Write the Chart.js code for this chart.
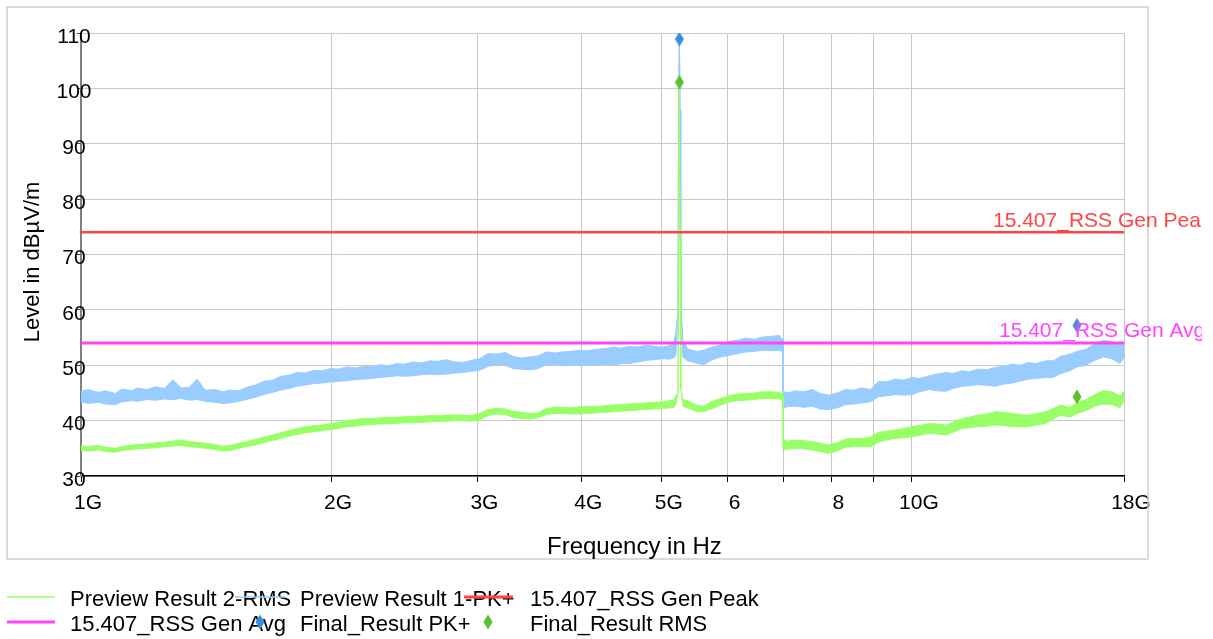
<!DOCTYPE html>
<html><head><meta charset="utf-8">
<script src="https://cdn.jsdelivr.net/npm/chart.js@4.4.1/dist/chart.umd.min.js"></script>
<style>html,body{margin:0;padding:0;background:#fff;overflow:hidden}canvas{display:block}</style>
</head><body>
<canvas id="c" width="1213" height="639" style="width:1213px;height:639px"></canvas>
<script>
// ---- data (GHz / dBµV/m) ----
const freqGHz = [
1.00,1.02,1.05,1.07,1.10,1.12,1.15,1.17,1.20,1.23,
1.26,1.29,1.32,1.35,1.38,1.41,1.45,1.48,1.51,1.55,
1.58,1.62,1.66,1.70,1.74,1.78,1.82,1.86,1.91,1.95,
2.00,2.04,2.09,2.14,2.19,2.24,2.29,2.34,2.40,2.45,
2.51,2.57,2.63,2.69,2.75,2.82,2.88,2.95,3.02,3.09,
3.16,3.24,3.31,3.39,3.47,3.55,3.63,3.72,3.80,3.89,
3.98,4.07,4.17,4.27,4.37,4.47,4.57,4.68,4.79,4.90,
5.01,5.10,5.17,5.20,5.23,5.24,5.25,5.26,5.27,5.30,
5.37,5.50,5.62,5.75,5.89,6.03,6.17,6.31,6.46,6.61,
6.76,6.92,7.00,
7.00,7.08,7.24,7.41,7.59,7.76,7.94,8.13,8.32,8.51,
8.71,8.91,9.12,9.33,9.55,9.77,10.0,10.2,10.5,10.7,
11.0,11.2,11.5,11.7,12.0,12.3,12.6,12.9,13.2,13.5,
13.8,14.1,14.5,14.8,15.1,15.5,15.8,16.2,16.6,17.0,
17.4,17.8,18.0];

// Preview Result 1-PK+ (lower / upper edge of the trace)
const pkLow = [
43.4,43.1,43.3,43.0,42.9,43.4,43.6,43.5,43.8,43.7,
43.9,43.8,44.0,43.7,43.8,43.5,43.3,43.1,43.2,43.5,
43.8,44.2,44.7,45.1,45.5,45.8,46.2,46.4,46.7,46.8,
47.0,47.1,47.2,47.4,47.5,47.6,47.8,47.9,48.1,48.0,
48.1,48.3,48.4,48.3,48.4,48.6,48.7,48.9,49.1,49.8,
50.1,50.0,49.4,49.3,49.2,49.4,50.1,50.2,49.9,50.0,
50.0,50.1,50.0,50.2,50.0,50.3,50.3,50.6,50.9,51.0,
51.2,51.1,51.3,52.0,60.0,100.0,108.8,96.0,62.0,51.5,
50.8,50.4,50.1,51.0,51.5,51.8,52.1,52.4,52.5,52.7,
52.6,52.7,52.4,
42.3,42.5,42.6,42.4,42.6,42.1,42.0,42.3,42.9,43.0,
43.2,43.4,44.3,44.5,44.7,44.6,44.7,45.2,45.6,45.4,
45.3,45.8,46.2,46.3,46.5,46.4,46.2,46.6,46.8,47.1,
47.5,47.6,47.8,47.8,48.5,49.0,49.7,50.0,50.9,51.5,
51.2,50.3,51.4];
const pkHigh = [
45.3,45.6,45.1,45.4,44.9,45.7,45.4,45.9,45.6,46.1,
45.8,47.4,45.9,46.0,47.5,45.5,45.6,45.2,45.5,45.4,
46.0,46.4,47.1,47.3,48.0,48.2,48.7,48.6,49.1,49.0,
49.4,49.3,49.7,49.5,49.8,49.7,50.1,49.9,50.3,50.2,
50.6,50.4,50.8,50.7,51.0,50.6,50.5,50.9,51.2,52.1,
52.0,52.3,51.6,51.3,51.5,51.7,52.4,52.2,52.4,52.5,
52.7,52.6,52.9,53.0,53.3,53.1,53.4,53.3,53.6,53.4,
53.3,53.5,54.2,56.0,60.0,100.0,108.8,96.0,62.0,54.5,
53.0,52.5,52.7,53.3,53.7,54.3,54.5,54.9,54.7,55.1,
55.2,55.4,54.6,
45.3,45.0,45.4,45.2,45.6,44.9,44.6,45.0,45.6,45.5,
45.9,45.6,47.1,47.0,47.5,47.3,47.8,47.6,48.1,48.4,
48.7,48.5,49.0,48.8,49.3,49.2,49.6,49.8,50.2,50.0,
50.5,50.3,50.8,50.8,51.6,52.0,52.5,52.9,53.9,54.5,
54.3,53.6,54.1];

// Preview Result 2-RMS (lower / upper edge of the trace)
const rmsLow = [
34.6,34.5,34.7,34.4,34.3,34.6,34.8,34.9,35.0,35.1,
35.3,35.4,35.5,35.3,35.2,35.0,34.8,34.5,34.6,35.0,
35.3,35.6,36.0,36.4,36.8,37.2,37.5,37.8,38.0,38.2,
38.4,38.6,38.9,39.0,39.2,39.3,39.4,39.4,39.5,39.6,
39.6,39.7,39.8,39.8,39.9,40.0,40.0,39.9,40.2,40.9,
41.2,41.1,40.6,40.4,40.3,40.5,41.1,41.3,41.3,41.2,
41.2,41.3,41.4,41.5,41.6,41.7,41.8,41.9,42.0,42.1,
42.2,42.3,42.4,43.0,45.0,75.0,101.0,72.0,46.0,42.6,
42.3,41.7,41.6,42.2,42.8,43.4,43.6,43.7,43.8,44.0,
44.0,43.9,43.7,
34.7,34.8,35.0,34.9,34.7,34.4,34.1,34.5,35.2,35.3,
35.3,35.3,36.1,36.5,36.8,36.9,37.1,37.3,37.7,37.6,
37.4,37.9,38.6,38.7,38.9,39.0,39.2,39.1,38.9,38.9,
38.9,39.2,39.5,40.3,41.0,40.6,41.3,41.8,42.6,43.0,
42.9,42.3,43.5];
const rmsHigh = [
35.4,35.3,35.5,35.2,35.0,35.3,35.6,35.7,35.8,36.0,
36.1,36.3,36.5,36.2,36.1,35.9,35.7,35.4,35.5,35.9,
36.2,36.6,37.0,37.4,37.8,38.2,38.6,38.9,39.1,39.2,
39.5,39.7,40.0,40.2,40.4,40.4,40.5,40.6,40.6,40.7,
40.8,40.8,40.9,40.9,41.0,41.0,41.0,40.9,41.3,42.0,
42.2,42.1,41.7,41.5,41.3,41.4,42.2,42.4,42.4,42.3,
42.5,42.6,42.5,42.7,42.8,42.9,43.0,43.1,43.2,43.3,
43.4,43.6,43.8,44.5,45.0,75.0,101.0,72.0,46.0,43.8,
43.6,42.8,42.6,43.5,44.0,44.5,44.8,44.9,45.0,45.2,
45.2,45.1,44.8,
36.5,36.3,36.5,36.4,36.2,35.9,35.6,36.0,36.7,36.8,
36.8,37.0,37.9,38.1,38.3,38.6,38.9,39.1,39.5,39.4,
39.2,39.7,40.4,40.6,41.0,41.2,41.6,41.5,41.3,41.1,
41.0,41.3,41.6,42.2,42.8,42.4,43.2,43.8,44.7,45.4,
45.2,44.5,45.3];

const limitFreq = [1, 18];
const limitPeak = [74, 74];
const limitAvg = [54, 54];

const finalFreq = [5.25, 15.8];
const finalPk = [108.9, 57.2];
const finalRms = [101.1, 44.3];

const xTickValues = [1, 2, 3, 4, 5, 6, 7, 8, 9, 10, 18];
const xTickLabels = ['1G', '2G', '3G', '4G', '5G', '6', '', '8', '', '10G', '18G'];
const yMin = 30, yMax = 110, yStep = 5;

const xTitle = 'Frequency in Hz';
const yTitle = 'Level in dBµV/m';
const limitNames = ['15.407_RSS Gen Peak', '15.407_RSS Gen Avg'];
const legendNames = ['Preview Result 2-RMS', 'Preview Result 1-PK+', '15.407_RSS Gen Peak',
                     '15.407_RSS Gen Avg', 'Final_Result PK+', 'Final_Result RMS'];

// ---- styles ----
const FONT = '"Liberation Sans", Arial, Helvetica, sans-serif';
const C_PK = '#99ccff', C_RMS = '#99ff66', C_RED = '#ff4444', C_PINK = '#ff44ff';
const C_MPK = '#3a8ee0', C_MRMS = '#5cbf30';

function diamond(color) {
  const c = document.createElement('canvas');
  c.width = 10; c.height = 16;
  const g = c.getContext('2d');
  g.fillStyle = color;
  g.beginPath();
  g.moveTo(5, 0.5); g.lineTo(9.5, 8); g.lineTo(5, 15.5); g.lineTo(0.5, 8);
  g.closePath(); g.fill();
  return c;
}
const dPk = diamond(C_MPK), dRms = diamond(C_MRMS);

const xy = (xs, ys) => xs.map((v, i) => ({x: v, y: ys[i]}));

Chart.defaults.font.family = FONT;

const decor = {
  id: 'decor',
  beforeDraw(chart) {
    const ctx = chart.ctx;
    ctx.save();
    ctx.fillStyle = '#fff';
    ctx.fillRect(0, 0, chart.width, chart.height);
    ctx.restore();
  },
  afterDraw(chart) {
    const {ctx} = chart;
    const y = chart.scales.y;
    ctx.save();
    // frame
    ctx.strokeStyle = '#cfcfcf'; ctx.lineWidth = 1.5;
    ctx.strokeRect(7, 7, 1141, 552);
    // axis titles
    ctx.fillStyle = '#000';
    ctx.font = '24px ' + FONT;
    ctx.textAlign = 'left'; ctx.textBaseline = 'alphabetic';
    ctx.fillText(xTitle, 547, 554);
    ctx.save();
    ctx.translate(33, 262); ctx.rotate(-Math.PI / 2);
    ctx.font = '22px ' + FONT; ctx.textAlign = 'center'; ctx.textBaseline = 'middle';
    ctx.fillText(yTitle, 0, 0);
    ctx.restore();
    // limit labels
    ctx.save();
    ctx.beginPath(); ctx.rect(0, 0, 1202, 639); ctx.clip();
    ctx.font = '21px ' + FONT; ctx.textAlign = 'left'; ctx.textBaseline = 'alphabetic';
    ctx.fillStyle = C_RED; ctx.fillText(limitNames[0], 993, y.getPixelForValue(limitPeak[0]) - 5);
    ctx.fillStyle = C_PINK; ctx.fillText(limitNames[1], 999, y.getPixelForValue(limitAvg[0]) - 6);
    ctx.restore();
    // legend
    ctx.font = '22px ' + FONT; ctx.fillStyle = '#000';
    ctx.textAlign = 'left'; ctx.textBaseline = 'middle';
    const tx = [70, 300, 530], ty = [600, 625];
    for (let i = 0; i < 6; i++) ctx.fillText(legendNames[i], tx[i % 3], ty[Math.floor(i / 3)]);
    const seg = (x1, x2, yy, col, w) => { ctx.strokeStyle = col; ctx.lineWidth = w; ctx.beginPath(); ctx.moveTo(x1, yy); ctx.lineTo(x2, yy); ctx.stroke(); };
    seg(7, 55, 597, C_RMS, 1.5);
    seg(235, 285, 597, C_PK, 1.5);
    seg(464, 513, 597, C_RED, 3);
    seg(7, 55, 622, C_PINK, 3);
    ctx.drawImage(dPk, 255, 614);
    ctx.drawImage(dRms, 483, 614);
    ctx.restore();
  }
};

new Chart(document.getElementById('c'), {
  type: 'line',
  data: {
    datasets: [
      {label: legendNames[4], data: xy(finalFreq, finalPk), showLine: false, pointStyle: dPk, pointRadius: 8},
      {label: legendNames[5], data: xy(finalFreq, finalRms), showLine: false, pointStyle: dRms, pointRadius: 8},
      {label: legendNames[2], data: xy(limitFreq, limitPeak), borderColor: C_RED, borderWidth: 2.5, pointRadius: 0, fill: false},
      {label: legendNames[3], data: xy(limitFreq, limitAvg), borderColor: C_PINK, borderWidth: 3, pointRadius: 0, fill: false},
      {label: 'rmsLow', data: xy(freqGHz, rmsLow), borderColor: C_RMS, borderWidth: 1, pointRadius: 0, fill: false},
      {label: legendNames[0], data: xy(freqGHz, rmsHigh), borderColor: C_RMS, backgroundColor: C_RMS, borderWidth: 1, pointRadius: 0, fill: '-1'},
      {label: 'pkLow', data: xy(freqGHz, pkLow), borderColor: C_PK, borderWidth: 1, pointRadius: 0, fill: false},
      {label: legendNames[1], data: xy(freqGHz, pkHigh), borderColor: C_PK, backgroundColor: C_PK, borderWidth: 1, pointRadius: 0, fill: '-1'}
    ]
  },
  options: {
    responsive: false,
    animation: false,
    events: [],
    layout: {padding: {left: 0, top: 33, right: 89, bottom: 0}},
    elements: {line: {tension: 0}},
    plugins: {legend: {display: false}, tooltip: {enabled: false}},
    scales: {
      x: {
        type: 'logarithmic', min: 1, max: 18,
        afterBuildTicks: s => { s.ticks = xTickValues.map(v => ({value: v})); },
        afterFit: s => { s.height = 163; },
        ticks: {autoSkip: false, maxRotation: 0, minRotation: 0, labelOffset: 7, padding: 9,
                color: '#000', font: {size: 21},
                callback: (v, i) => xTickLabels[i]},
        grid: {color: '#c8c8c8', lineWidth: 1, tickLength: 6, tickColor: '#000'},
        border: {color: '#000', width: 1.5}
      },
      y: {
        type: 'linear', min: yMin, max: yMax,
        afterFit: s => { s.width = 81; },
        ticks: {stepSize: yStep, mirror: true, crossAlign: 'center', padding: -24.5, labelOffset: 4,
                color: '#000', font: {size: 21},
                callback: v => (v % 10 === 0 ? String(v) : '')},
        grid: {color: '#c8c8c8', lineWidth: 1, tickLength: 4, tickColor: '#444'},
        border: {color: '#808080', width: 2}
      }
    }
  },
  plugins: [decor]
});
</script>
</body></html>
